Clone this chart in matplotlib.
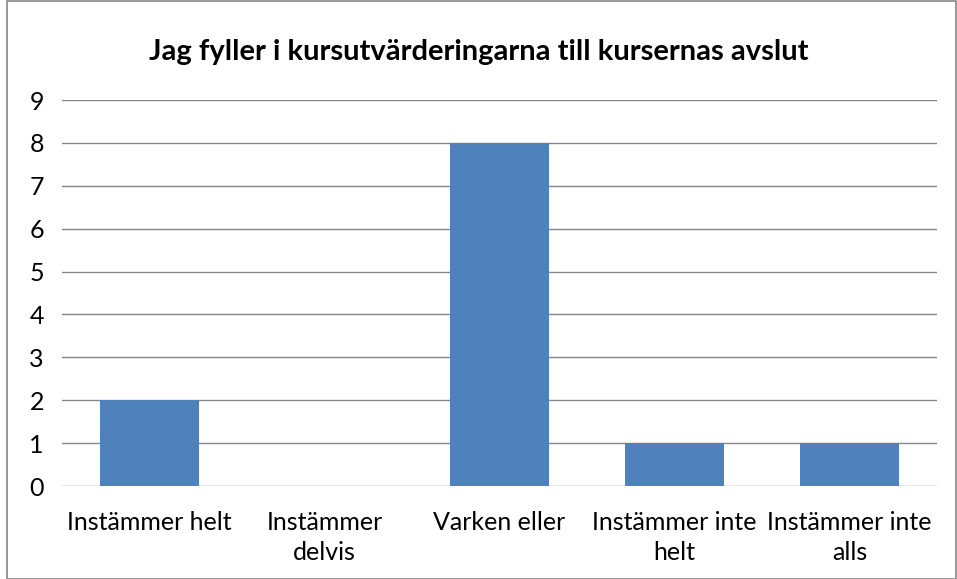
import matplotlib.pyplot as plt
from matplotlib.patches import Rectangle

categories = ["Instämmer helt", "Instämmer\ndelvis", "Varken eller",
              "Instämmer inte\nhelt", "Instämmer inte\nalls"]
values = [2, 0, 8, 1, 1]
yticks = list(range(0, 10))

plt.rcParams["font.family"] = ["Lato", "DejaVu Sans"]

fig = plt.figure(figsize=(9.57, 5.79), dpi=100)
ax = fig.add_axes([62 / 957, 1 - 486 / 579, 875 / 957, 386 / 579])

x = range(len(categories))
ax.bar(x, values, width=0.57, color="#4F81BD", zorder=3)

ax.set_xlim(-0.5, len(categories) - 0.5)
ax.set_ylim(0, 9)
ax.set_yticks(yticks)
ax.set_xticks(list(x))
ax.set_xticklabels(categories, fontsize=18, linespacing=1.35)
ax.tick_params(axis="both", length=0, labelsize=18)
ax.tick_params(axis="y", pad=13)
ax.tick_params(axis="x", pad=18)
ax.yaxis.grid(True, color="#868686", linewidth=1.0, zorder=0)
for s in ax.spines.values():
    s.set_visible(False)

fig.text(0.5, 1 - 52 / 579, "Jag fyller i kursutvärderingarna till kursernas avslut",
         ha="center", va="center", fontsize=21, fontweight="bold")

fig.patches.append(Rectangle((7 / 957, 0.5 / 579), 949 / 957, 578 / 579,
                             transform=fig.transFigure, fill=False,
                             edgecolor="#868686", linewidth=1.2))

fig.savefig("out.png", dpi=100)
